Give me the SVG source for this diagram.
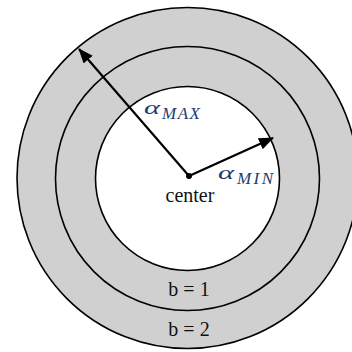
<svg xmlns="http://www.w3.org/2000/svg" width="352" height="352" viewBox="0 0 352 352">
<style>
.ring{stroke:#000;stroke-width:1.6}
.arr{stroke:#000;stroke-width:2.2;fill:none}
.t{font-family:"Liberation Serif","Times New Roman",serif;fill:#111;font-size:20px}
.m{font-family:"Liberation Serif","Times New Roman",serif;fill:#1f3c70;font-style:italic}
</style>
<defs>
<marker id="ah" markerUnits="userSpaceOnUse" markerWidth="16" markerHeight="12" refX="14" refY="6" orient="auto"><path d="M0,0 L15,6 L0,12 Z" fill="#000"/></marker>
</defs>
<g id="outer"><circle class="ring" cx="187.5" cy="178" r="170.5" fill="#d0d0d0"/></g>
<g id="middle"><circle class="ring" cx="187.5" cy="178.5" r="132" fill="#d0d0d0"/></g>
<g id="inner"><circle class="ring" cx="187.5" cy="178.5" r="92" fill="#fff"/></g>
<g id="connectors">
<line class="arr" x1="189" y1="176" x2="79" y2="49" marker-end="url(#ah)"/>
<line class="arr" x1="189" y1="176" x2="273" y2="138" marker-end="url(#ah)"/>
</g>
<g id="center"><circle cx="189" cy="176" r="3" fill="#000"/><text class="t" x="190" y="202" text-anchor="middle">center</text></g>
<g id="labels">
<text class="m" font-size="19"><tspan x="144" y="114" textLength="16" lengthAdjust="spacingAndGlyphs">α</tspan><tspan x="162" y="119" font-size="17" textLength="38" lengthAdjust="spacing">MAX</tspan></text>
<text class="m" font-size="19"><tspan x="218" y="179" textLength="16" lengthAdjust="spacingAndGlyphs">α</tspan><tspan x="237" y="184" font-size="17" textLength="36" lengthAdjust="spacing">MIN</tspan></text>
<text class="t" x="189" y="296" text-anchor="middle">b = 1</text>
<text class="t" x="189" y="336" text-anchor="middle">b = 2</text>
</g>
</svg>
